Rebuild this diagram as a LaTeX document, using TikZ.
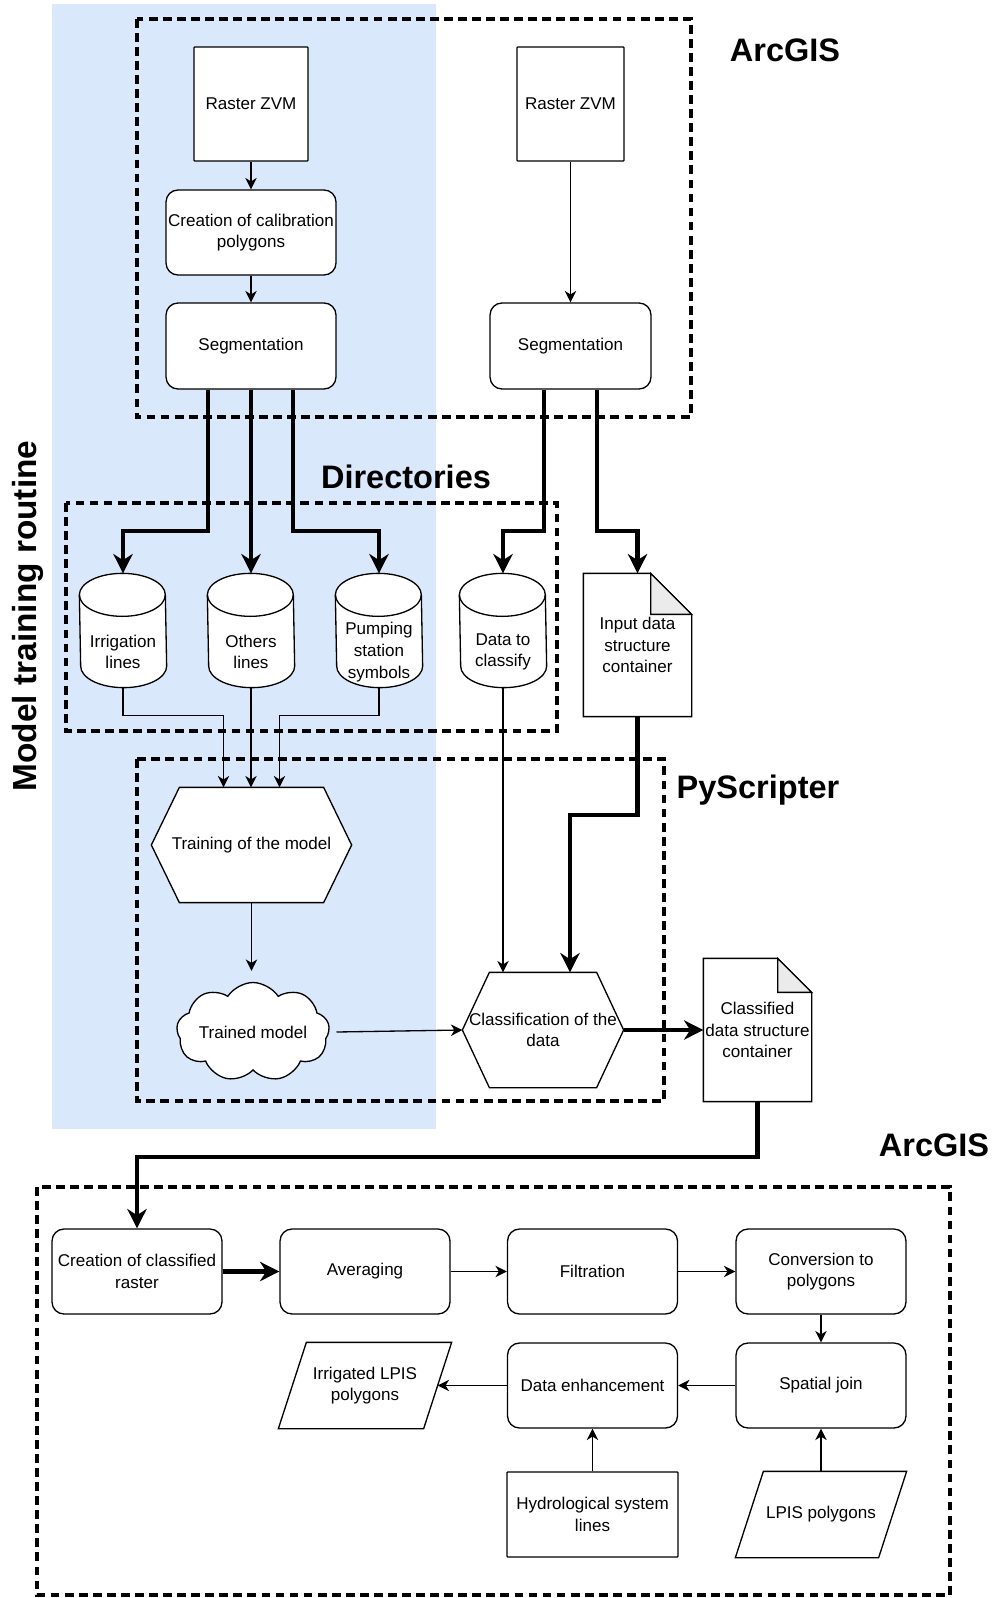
\documentclass[tikz,border=0pt]{standalone}
\usepackage{fontspec}
\setmainfont{Liberation Sans}
\usepackage{xcolor}
\usetikzlibrary{arrows.meta}
\usetikzlibrary{shapes.symbols}
\definecolor{trainblue}{HTML}{DAE8FC}
\definecolor{foldgray}{HTML}{EBEBEB}
\pgfdeclarelayer{background}
\pgfsetlayers{background,main}

\begin{document}
\begin{tikzpicture}[x=0.02cm, y=-0.02cm,
	procbox/.style={draw, fill=white, line width=0.75pt, align=center, inner sep=0pt, font=\fontsize{9.7}{12.3}\selectfont},
	sqbox/.style={procbox, rounded corners=0.4pt},
	rbox/.style={procbox, rounded corners=0.24cm, minimum width=3.4cm, minimum height=1.7cm},
	ghost/.style={procbox, draw=none, fill=none},
	zone/.style={line width=1.8pt, dash pattern=on 5pt off 3pt},
	zonelabel/.style={inner sep=0pt, font=\fontsize{18.5}{20}\selectfont\bfseries},
	thinarrow/.style={line width=0.75pt, -{Stealth[length=6.5pt, width=6.5pt, inset=2pt]}},
	boldarrow/.style={line width=2.3pt, -{Stealth[length=11pt, width=11pt, inset=3.5pt]}},
	]
	\useasboundingbox (0,0) rectangle (996,1598);
	
	\begin{pgfonlayer}{background}
	\fill[trainblue] (52,4) rectangle (436,1129);
	\draw[zone] (137,19) rectangle (691,417);
	\draw[zone] (66,503) rectangle (557,731);
	\draw[zone] (137,759) rectangle (664,1101);
	\draw[zone] (37,1187) rectangle (950,1595);
	\end{pgfonlayer}
	
	\node[zonelabel] (lblArcA) at (785,50) {ArcGIS};
	\node[zonelabel] (lblDir) at (406,477) {Directories};
	\node[zonelabel] (lblPy) at (758,790) {PyScripter};
	\node[zonelabel] (lblArcB) at (934,1145) {ArcGIS};
	\node[zonelabel, font=\fontsize{19}{20}\selectfont\bfseries, rotate=90] (lblTrain) at (28,616) {Model training routine};
	
	\node[sqbox, minimum width=2.28cm, minimum height=2.28cm] (rzvmA) at (251,104) {Raster ZVM};
	\node[rbox] (calib) at (251,232.5) {Creation of calibration\\polygons};
	\node[rbox, minimum height=1.72cm] (segA) at (251,346) {Segmentation};
	\node[sqbox, minimum width=2.14cm, minimum height=2.28cm] (rzvmB) at (570.5,104) {Raster ZVM};
	\node[rbox, minimum width=3.22cm, minimum height=1.72cm] (segB) at (570.5,346) {Segmentation};
	
	\node[ghost, minimum width=1.72cm, minimum height=1.4cm] (irr) at (123,652) {Irrigation\\lines};
	\node[ghost, minimum width=1.72cm, minimum height=1.4cm] (oth) at (251,652) {Others\\lines};
	\node[ghost, minimum width=1.72cm, minimum height=1.4cm] (pump) at (379,652) {Pumping\\station\\symbols};
	\node[ghost, minimum width=1.72cm, minimum height=1.4cm] (dcls) at (503,652) {Data to\\classify};
	\node[ghost, minimum width=2.14cm, minimum height=2.84cm] (inp) at (637.5,645) {Input data\\structure\\container};
	
	\node[ghost, minimum width=3.98cm, minimum height=2.28cm] (train) at (251.5,845) {Training of the model};
	\node[procbox, cloud, cloud puffs=9, cloud puff arc=115, cloud ignores aspect, minimum width=3.06cm, minimum height=1.98cm] (cloud) at (253,1032) {Trained model};
	\node[ghost, minimum width=3.2cm, minimum height=2.28cm] (class) at (543,1030) {Classification of the\\data};
	\node[ghost, minimum width=2.14cm, minimum height=2.84cm] (cdat) at (757.5,1030) {Classified\\data structure\\container};
	
	\node[rbox] (crr) at (137,1271.5) {Creation of classified\\raster};
	\node[rbox] (ave) at (365,1271.5) {Averaging};
	\node[rbox] (filt) at (592.5,1271.5) {Filtration};
	\node[rbox] (conv) at (821,1271.5) {Conversion to\\polygons};
	\node[rbox] (sjoin) at (821,1385.5) {Spatial join};
	\node[rbox] (denh) at (592.5,1385.5) {Data enhancement};
	\node[ghost, minimum width=3.44cm, minimum height=1.7cm] (irrl) at (365,1385.5) {Irrigated LPIS\\polygons};
	\node[sqbox, minimum width=3.42cm, minimum height=1.7cm] (hydro) at (592.5,1514.5) {Hydrological system\\lines};
	\node[ghost, minimum width=3.4cm, minimum height=1.7cm] (lpis) at (821,1514.5) {LPIS polygons};
	
	\begin{pgfonlayer}{background}
	\foreach \n in {irr,oth,pump,dcls} {
		\filldraw[fill=white, line width=0.75pt] ([yshift=0.43cm]\n.north west) arc[start angle=180, end angle=0, x radius=0.86cm, y radius=0.43cm] -- ([yshift=0.43cm]\n.south east) arc[start angle=0, end angle=-180, x radius=0.86cm, y radius=0.43cm] -- cycle;
		\draw[line width=0.75pt] ([yshift=0.43cm]\n.north west) arc[start angle=180, end angle=360, x radius=0.86cm, y radius=0.43cm];
	}
	\foreach \n/\f in {inp/0.82, cdat/0.68} {
		\filldraw[fill=white, line width=0.75pt] (\n.north west) -- ([xshift=-\f cm]\n.north east) -- ([yshift=-\f cm]\n.north east) -- (\n.south east) -- (\n.south west) -- cycle;
		\filldraw[fill=foldgray, line width=0.75pt] ([xshift=-\f cm]\n.north east) -- ([xshift=-\f cm, yshift=-\f cm]\n.north east) -- ([yshift=-\f cm]\n.north east) -- cycle;
	}
	\foreach \n/\s in {train/0.56, class/0.54} {
		\filldraw[fill=white, line width=0.75pt] ([xshift=\s cm]\n.north west) -- ([xshift=-\s cm]\n.north east) -- (\n.east) -- ([xshift=-\s cm]\n.south east) -- ([xshift=\s cm]\n.south west) -- (\n.west) -- cycle;
	}
	\foreach \n in {irrl,lpis} {
		\filldraw[fill=white, line width=0.75pt] ([xshift=0.56cm]\n.north west) -- (\n.north east) -- ([xshift=-0.56cm]\n.south east) -- (\n.south west) -- cycle;
	}
	\end{pgfonlayer}
	
	\draw[thinarrow] (rzvmA.south) -- (calib.north);
	\draw[thinarrow] (calib.south) -- (segA.north);
	\draw[thinarrow] (rzvmB.south) -- (segB.north);
	
	\draw[boldarrow] ([xshift=-0.86cm]segA.south) |- ([yshift=1.7cm]irr.north) -- ([yshift=0.86cm]irr.north);
	\draw[boldarrow] (segA.south) -- ([yshift=0.86cm]oth.north);
	\draw[boldarrow] ([xshift=0.84cm]segA.south) |- ([yshift=1.7cm]pump.north) -- ([yshift=0.86cm]pump.north);
	\draw[boldarrow] ([xshift=-0.53cm]segB.south) |- ([yshift=1.7cm]dcls.north) -- ([yshift=0.86cm]dcls.north);
	\draw[boldarrow] ([xshift=0.53cm]segB.south) |- ([yshift=0.84cm]inp.north) -- (inp.north);
	
	\draw[thinarrow] (irr.south) |- ([xshift=-0.56cm, yshift=1.44cm]train.north) -- ([xshift=-0.56cm]train.north);
	\draw[thinarrow] (oth.south) -- (oth.south |- train.north);
	\draw[thinarrow] (pump.south) |- ([xshift=0.56cm, yshift=1.44cm]train.north) -- ([xshift=0.56cm]train.north);
	\draw[thinarrow] (dcls.south) -- (dcls.south |- class.north);
	\draw[boldarrow] (inp.south) |- ([xshift=0.54cm, yshift=3.14cm]class.north) -- ([xshift=0.54cm]class.north);
	
	\draw[thinarrow] (train.south) -- ([yshift=0.22cm]train.south |- cloud.north);
	\draw[thinarrow] ([xshift=0.14cm]cloud.east) -- (class.west);
	\draw[boldarrow] (class.east) -- (cdat.west);
	\draw[boldarrow] (cdat.south) |- ([yshift=1.42cm]crr.north) -- (crr.north);
	
	\draw[boldarrow] (crr.east) -- (ave.west);
	\draw[thinarrow] (ave.east) -- (filt.west);
	\draw[thinarrow] (filt.east) -- (conv.west);
	\draw[thinarrow] (conv.south) -- (sjoin.north);
	\draw[thinarrow] (sjoin.west) -- (denh.east);
	\draw[thinarrow] (denh.west) -- ([xshift=-0.28cm]irrl.east);
	\draw[thinarrow] (hydro.north) -- (denh.south);
	\draw[thinarrow] (lpis.north) -- (sjoin.south);
	
\end{tikzpicture}
\end{document}
